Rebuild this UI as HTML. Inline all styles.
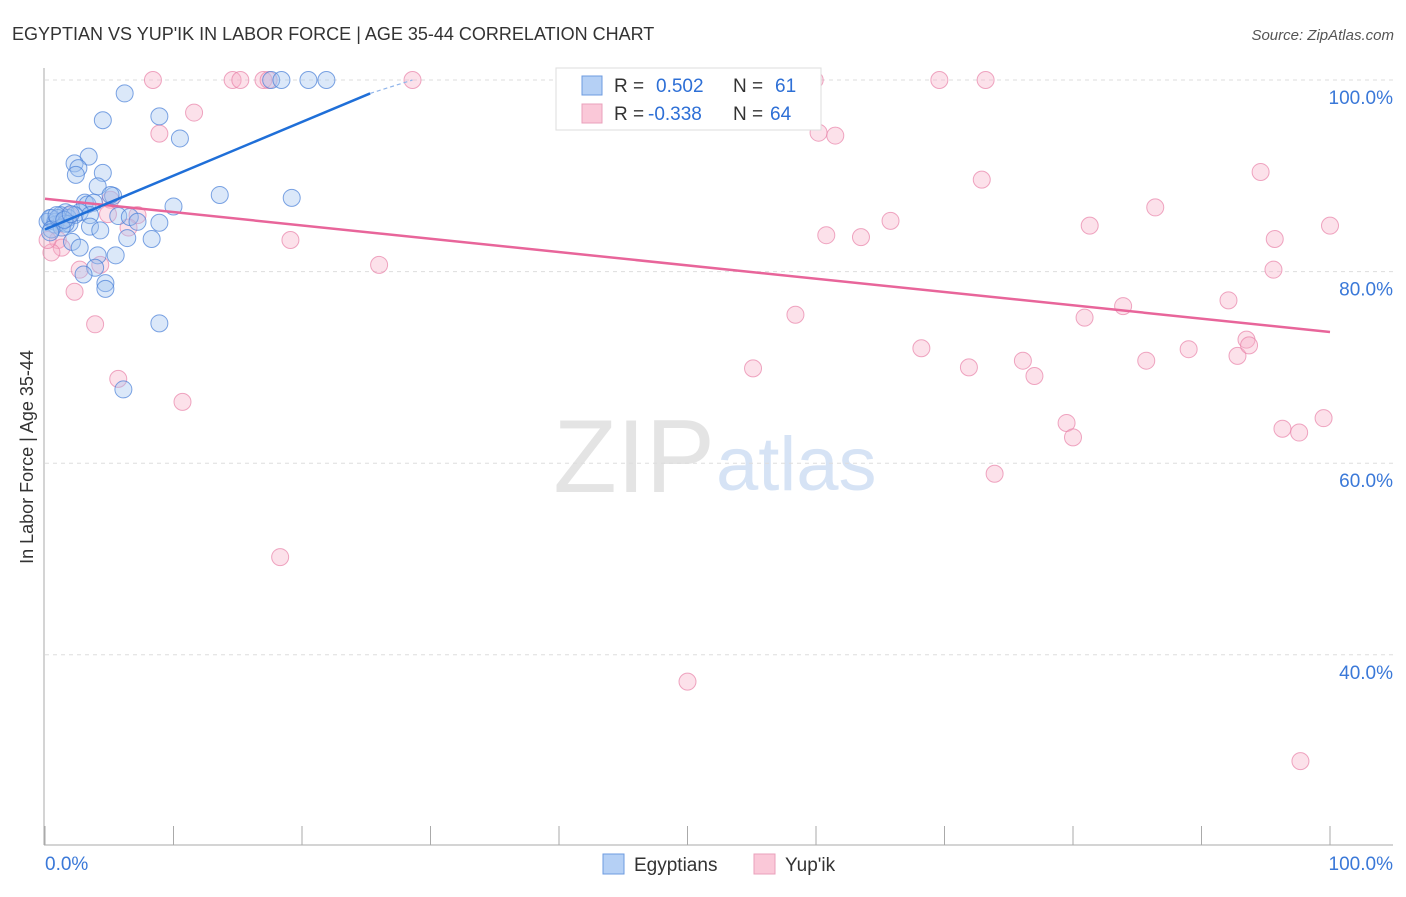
<!DOCTYPE html>
<html><head><meta charset="utf-8"><style>
body{margin:0;background:#fff;font-family:"Liberation Sans",sans-serif;}
svg text{font-family:"Liberation Sans",sans-serif;}
</style></head><body>
<svg id="chart" width="1406" height="892" xmlns="http://www.w3.org/2000/svg">
<text x="12" y="40" font-size="18" fill="#333">EGYPTIAN VS YUP'IK IN LABOR FORCE | AGE 35-44 CORRELATION CHART</text>
<text x="1394" y="40" font-size="15" fill="#555" text-anchor="end" font-style="italic">Source: ZipAtlas.com</text>
<text x="715" y="492" font-size="104" fill="#e4e4e4" text-anchor="end" font-family="Liberation Serif">ZIP</text>
<text x="716" y="490" font-size="76" fill="#d6e3f5">atlas</text>
<g id="grid"></g>
<g id="axes"></g>
<g id="pts"></g>
<g id="lines"></g>
<text transform="translate(33,457) rotate(-90)" font-size="18" fill="#333" text-anchor="middle">In Labor Force | Age 35-44</text>
<g>
<rect x="556" y="68" width="265" height="62" fill="#fff" stroke="#ddd"/>
<rect x="582" y="76" width="20" height="19" fill="#b5d0f5" stroke="#6d9be0"/>
<rect x="582" y="104" width="20" height="19" fill="#fac8d8" stroke="#eaa0bb"/>
<text x="614" y="92" font-size="19" fill="#333">R =</text>
<text x="656" y="92" font-size="19" fill="#2d6fd6">0.502</text>
<text x="733" y="92" font-size="19" fill="#333">N =</text>
<text x="775" y="92" font-size="19" fill="#2d6fd6">61</text>
<text x="614" y="120" font-size="19" fill="#333">R =</text>
<text x="648" y="120" font-size="19" fill="#2d6fd6">-0.338</text>
<text x="733" y="120" font-size="19" fill="#333">N =</text>
<text x="770" y="120" font-size="19" fill="#2d6fd6">64</text>
</g>
<g>
<rect x="603" y="854" width="21" height="20" fill="#b5d0f5" stroke="#6d9be0"/>
<text x="634" y="871" font-size="19" fill="#333">Egyptians</text>
<rect x="754" y="854" width="21" height="20" fill="#fac8d8" stroke="#eaa0bb"/>
<text x="785" y="871" font-size="19" fill="#333">Yup'ik</text>
</g>
</svg>
<script>
const blueX=[6.2,4.5,8.9,10.5,3.4,2.3,2.6,2.4,4.5,4.1,5.3,13.6,19.2,10.0,3.1,3.3,3.8,1.6,2.7,1.2,0.5,0.2,0.8,1.3,1.8,2.3,3.5,5.7,6.6,7.2,8.9,3.5,4.3,6.4,8.3,2.1,2.7,4.1,5.5,3.9,3.0,4.7,4.7,8.9,6.1,17.6,18.4,21.9,20.5,0.8,0.4,1.0,1.9,1.6,1.3,0.5,5.1,0.4,0.9,1.5,2.0];
const blueY=[98.6,95.8,96.2,93.9,92.0,91.3,90.8,90.1,90.3,88.9,87.9,88.0,87.7,86.8,87.2,87.0,87.2,86.2,86.2,85.9,85.6,85.2,85.2,85.2,85.6,85.9,85.9,85.8,85.7,85.2,85.1,84.7,84.3,83.5,83.4,83.1,82.5,81.7,81.7,80.4,79.7,78.8,78.2,74.6,67.7,100,100,100,100,84.9,85.6,85.6,85.0,85.0,84.6,84.4,88.0,84.1,85.9,85.4,86.0];
const pinkX=[8.4,14.6,15.2,17.0,17.4,28.6,41.5,59.9,69.6,73.2,11.6,8.9,60.2,61.5,72.9,94.6,86.4,65.8,81.3,60.8,63.5,100.0,95.7,19.1,26.0,95.6,5.1,7.2,6.5,1.0,1.3,0.5,2.7,4.3,2.3,3.9,58.4,80.9,83.9,92.1,68.2,55.1,71.9,76.1,77.0,85.7,89.0,92.8,93.5,93.7,5.7,10.7,79.5,80.0,96.3,97.6,99.5,73.9,18.3,50.0,97.7,0.2,1.9,4.9];
const pinkY=[100,100,100,100,100,100,100,100,100,100,96.6,94.4,94.5,94.2,89.6,90.4,86.7,85.3,84.8,83.8,83.6,84.8,83.4,83.3,80.7,80.2,87.5,85.9,84.6,83.3,82.5,82.0,80.2,80.7,77.9,74.5,75.5,75.2,76.4,77.0,72.0,69.9,70.0,70.7,69.1,70.7,71.9,71.2,72.9,72.3,68.8,66.4,64.2,62.7,63.6,63.2,64.7,58.9,50.2,37.2,28.9,83.3,85.9,86.0];
const yTicks=[100,80,60,40];
const yTickLabels=["100.0%","80.0%","60.0%","40.0%"];
const xTicks=[0,10,20,30,40,50,60,70,80,90,100];
const blueLine=[[0,84.4],[25.3,98.6]], blueDash=[[25.3,98.6],[28.6,100]];
const pinkLine=[[0,87.6],[100,73.7]];
const NS="http://www.w3.org/2000/svg";
const sx=v=>45+v*12.85, sy=v=>80+(100-v)*9.58;
function mk(tag,at,parent){const e=document.createElementNS(NS,tag);for(const k in at)e.setAttribute(k,at[k]);parent.appendChild(e);return e;}
const grid=document.getElementById('grid'),axes=document.getElementById('axes'),pts=document.getElementById('pts'),lines=document.getElementById('lines');
yTicks.forEach((t,i)=>{
 const l=mk('line',{x1:45,x2:1393,y1:sy(t),y2:sy(t),stroke:'#ddd','stroke-dasharray':'4,4'},grid);
 
 
 const tx=mk('text',{x:1393,y:sy(t)+24,'font-size':19,fill:'#3a78d8','text-anchor':'end'},axes);
 tx.textContent=yTickLabels[i];
 
 
});
const ya=mk('line',{x1:44,x2:44,y1:68,y2:845,stroke:'#aaa'},axes);


const xa=mk('line',{x1:44,x2:1393,y1:845,y2:845,stroke:'#aaa'},axes);


xTicks.forEach(t=>{const l=mk('line',{x1:sx(t),x2:sx(t),y1:826,y2:845,stroke:'#aaa'},axes);
 
 });
const x0=mk('text',{x:45,y:870,'font-size':19,fill:'#3a78d8'},axes);x0.textContent='0.0%';


const x1=mk('text',{x:1393,y:870,'font-size':19,fill:'#3a78d8','text-anchor':'end'},axes);x1.textContent='100.0%';


pinkX.forEach((x,i)=>{const c=mk('circle',{cx:sx(x),cy:sy(pinkY[i]),r:8.5,fill:'rgba(246,176,200,0.38)',stroke:'rgba(232,130,168,0.7)','stroke-width':1},pts);
 
 });
blueX.forEach((x,i)=>{const c=mk('circle',{cx:sx(x),cy:sy(blueY[i]),r:8.5,fill:'rgba(160,195,240,0.38)',stroke:'rgba(70,125,215,0.7)','stroke-width':1},pts);
 
 });
const ln=(p,col,w,dash,name)=>{const l=mk('line',{x1:sx(p[0][0]),y1:sy(p[0][1]),x2:sx(p[1][0]),y2:sy(p[1][1]),stroke:col,'stroke-width':w},lines);if(dash)l.setAttribute('stroke-dasharray',dash);
 
 };
ln(pinkLine,'#e8659a',2.5,null,'trend-line-yupik');
ln(blueLine,'#1f6fd8',2.5,null,'trend-line-egyptians');
ln(blueDash,'#8fb4ea',1.2,'4,3','trend-line-egyptians-extension');
</script>
</body></html>
